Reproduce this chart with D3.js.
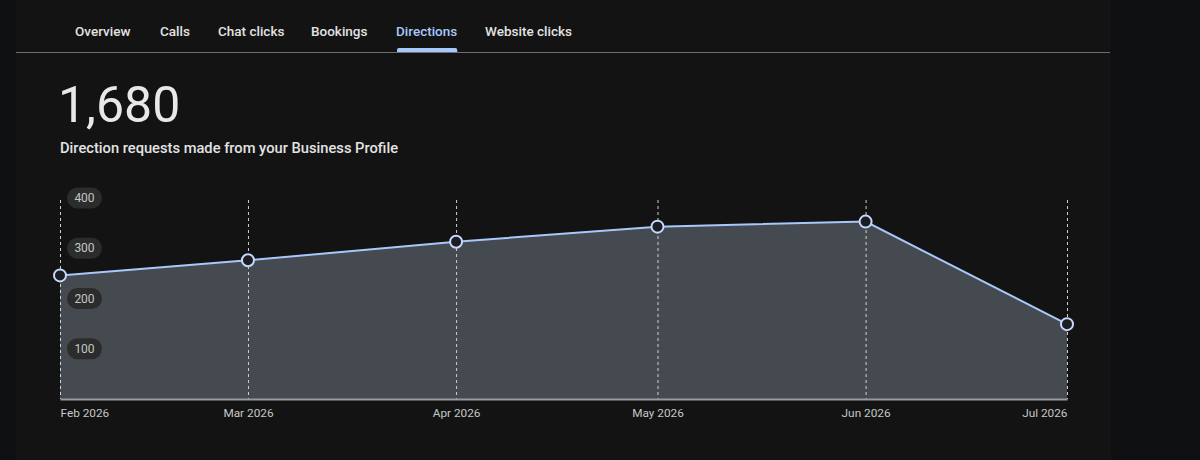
<!DOCTYPE html>
<html>
<head>
<meta charset="utf-8">
<script src="https://cdn.jsdelivr.net/npm/d3@7"></script>
<style>
  body { margin: 0; background: #0e0f11; font-family: Roboto, "Noto Sans", sans-serif; }
  #container { width: 1200px; height: 460px; overflow: hidden; }
</style>
</head>
<body>
<div id="container"></div>
<script>
const width = 1200,
  height = 460,
  margin = { top: 198, bottom: 61, left: 60, right: 133 },
  radius = 6;

// data
const tabs = ["Overview", "Calls", "Chat clicks", "Bookings", "Directions", "Website clicks"];
const activeTab = "Directions";
const months = ["2026-02-01", "2026-03-01", "2026-04-01", "2026-05-01", "2026-06-01", "2026-07-01"];
const monthLabels = ["Feb 2026", "Mar 2026", "Apr 2026", "May 2026", "Jun 2026", "Jul 2026"];
const directions = [246, 276, 313, 343, 353, 149];
const yTicks = [100, 200, 300, 400];
const total = "1,680";
const subtitle = "Direction requests made from your Business Profile";

const parse = d3.timeParse("%Y-%m-%d");
const data = months.map((m, i) => ({ date: parse(m), value: directions[i], label: monthLabels[i] }));

const svg = d3.select("#container")
  .append("svg")
  .attr("width", width)
  .attr("height", height);

// panel
svg.append("rect")
  .attr("x", 16).attr("y", 0)
  .attr("width", 1095).attr("height", height)
  .attr("fill", "#131313");

/* TABS */
const tabX = [75, 160, 218, 311, 396, 485];
const tabG = svg.append("g");
tabs.forEach((t, i) => {
  const txt = tabG.append("text")
    .attr("x", tabX[i])
    .attr("y", 36)
    .attr("font-size", 13.5)
    .attr("font-weight", 500)
    .attr("fill", t === activeTab ? "#a8c7fa" : "#e3e3e3")
    .text(t);
  if (t === activeTab) {
    const w = txt.node().getComputedTextLength();
    tabG.append("path")
      .attr("d", `M${tabX[i] + 1},52 v-2 a2,2 0 0 1 2,-2 h${w - 5} a2,2 0 0 1 2,2 v2 z`)
      .attr("fill", "#a8c7fa");
  }
});
svg.append("line")
  .attr("x1", 16).attr("x2", 1110)
  .attr("y1", 52.5).attr("y2", 52.5)
  .attr("stroke", "#6b6e72")
  .attr("stroke-width", 1);

/* HEADLINE */
svg.append("text")
  .attr("x", 58).attr("y", 122)
  .attr("font-size", 50)
  .attr("font-weight", 400)
  .attr("fill", "#e8e8e8")
  .text(total);
svg.append("text")
  .attr("x", 60).attr("y", 153)
  .attr("font-size", 14.7)
  .attr("font-weight", 500)
  .attr("fill", "#e3e3e3")
  .text(subtitle);

/* SCALES */
const xScale = d3.scaleTime()
  .domain(d3.extent(data, d => d.date))
  .range([margin.left, width - margin.right]);

const yScale = d3.scaleLinear()
  .domain([0, 400])
  .range([height - margin.bottom, margin.top]);

// area
const area = d3.area()
  .x(d => xScale(d.date))
  .y0(yScale(0))
  .y1(d => yScale(d.value));

svg.append("path")
  .datum(data)
  .attr("d", area)
  .attr("fill", "#454950");

// dashed month lines
svg.selectAll(".vline")
  .data(data)
  .join("line")
  .attr("class", "vline")
  .attr("x1", d => xScale(d.date) + 0.5)
  .attr("x2", d => xScale(d.date) + 0.5)
  .attr("y1", yScale(400) + 2)
  .attr("y2", yScale(0))
  .attr("stroke", "#d0d0d0")
  .attr("stroke-width", 1)
  .attr("stroke-dasharray", "3,3");

// y tick pills
const yG = svg.append("g");
yG.selectAll("rect")
  .data(yTicks)
  .join("rect")
  .attr("x", 67)
  .attr("y", d => yScale(d) - 10.5)
  .attr("width", 35)
  .attr("height", 21)
  .attr("rx", 10.5)
  .attr("fill", "#2c2c2c");
yG.selectAll("text")
  .data(yTicks)
  .join("text")
  .attr("x", 84.5)
  .attr("y", d => yScale(d) + 4)
  .attr("text-anchor", "middle")
  .attr("font-size", 12)
  .attr("fill", "#c4c7c5")
  .text(d => d);

// baseline axis
const xAxis = d3.axisBottom(xScale)
  .tickValues(data.map(d => d.date))
  .tickSize(0)
  .tickFormat((d, i) => monthLabels[i]);

const xG = svg.append("g")
  .attr("transform", `translate(0, ${yScale(0)})`)
  .call(xAxis);
xG.select(".domain")
  .attr("stroke", "#9a9a9a")
  .attr("stroke-width", 2);
xG.selectAll("text")
  .attr("y", 10)
  .attr("font-family", "Roboto, sans-serif")
  .attr("font-size", 11.8)
  .attr("fill", "#c4c7c5")
  .attr("text-anchor", (d, i) => i === 0 ? "start" : i === data.length - 1 ? "end" : "middle");

// line
const line = d3.line()
  .x(d => xScale(d.date))
  .y(d => yScale(d.value));

svg.append("path")
  .datum(data)
  .attr("d", line)
  .attr("fill", "none")
  .attr("stroke", "#a8c7fa")
  .attr("stroke-width", 2);

// points
svg.selectAll(".pt")
  .data(data)
  .join("circle")
  .attr("class", "pt")
  .attr("cx", d => xScale(d.date))
  .attr("cy", d => yScale(d.value))
  .attr("r", radius)
  .attr("fill", "#1b1d22")
  .attr("stroke", "#c6d8fb")
  .attr("stroke-width", 2);
</script>
</body>
</html>
